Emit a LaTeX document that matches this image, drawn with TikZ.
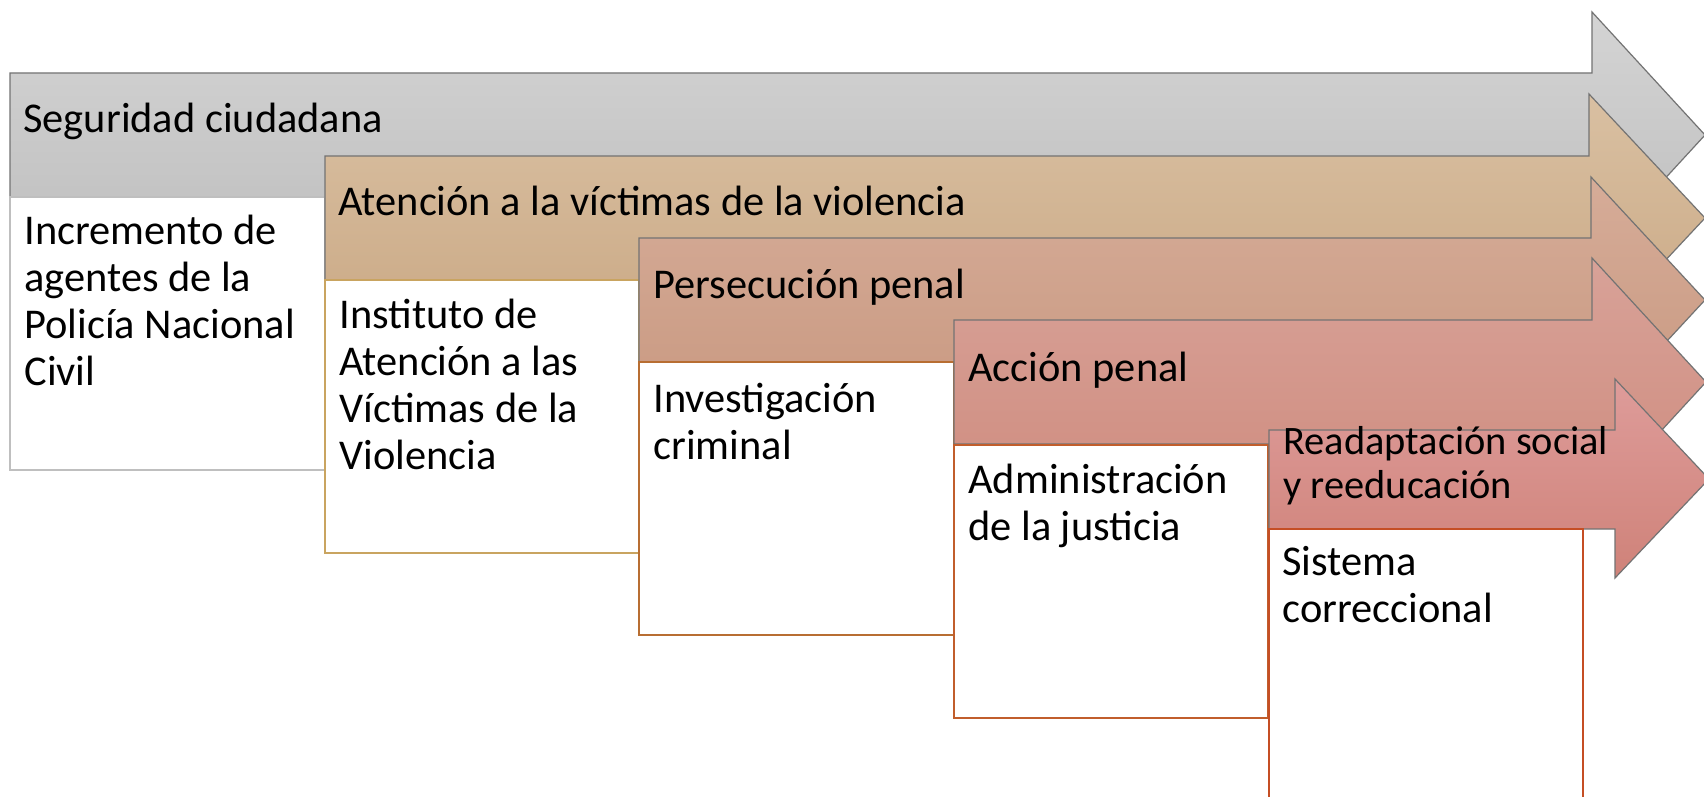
\documentclass[tikz,border=0pt]{standalone}
\usepackage{fontspec}
\setmainfont{Carlito}
\usepackage{tikz}

\definecolor{grisA}{RGB}{212,212,212}
\definecolor{grisB}{RGB}{190,190,190}
\definecolor{ocreA}{RGB}{217,192,162}
\definecolor{ocreB}{RGB}{202,168,132}
\definecolor{rosaA}{RGB}{214,172,152}
\definecolor{rosaB}{RGB}{200,152,128}
\definecolor{rojoA}{RGB}{216,162,152}
\definecolor{rojoB}{RGB}{207,140,127}
\definecolor{vinoA}{RGB}{222,156,154}
\definecolor{vinoB}{RGB}{207,130,121}
\definecolor{bordeA}{RGB}{191,191,191}
\definecolor{bordeB}{RGB}{201,164,96}
\definecolor{bordeC}{RGB}{184,110,50}
\definecolor{bordeD}{RGB}{193,94,44}
\definecolor{bordeE}{RGB}{197,78,36}

\tikzset{
    band/.style={draw=black!55, line width=0.6pt},
    card/.style={fill=white, line width=0.6pt},
    title/.style={anchor=base west, inner sep=0pt, font=\fontsize{21.2}{23.35}\selectfont},
    % multi-line nodes: base is the last line
    body/.style={anchor=base west, inner sep=0pt, align=left, font=\fontsize{21.2}{23.35}\selectfont},
}

\begin{document}
\begin{tikzpicture}[x=0.5pt, y=-0.5pt]
    \clip (0,0) rectangle (1704,797);
    \fill[white] (0,0) rectangle (1704,797);

    \draw[band, top color=grisA, bottom color=grisB] (10,73) -- (1592,73) -- (1592,12) -- (1705,135)
        -- (1592,258) -- (1592,197) -- (10,197) -- cycle;
    \draw[card, draw=bordeA] (10,197) rectangle (325,470);
    \node[title] (seguridad) at (23,133) {Seguridad ciudadana};
    \node[body] (policia) at (24,385) {Incremento de\\agentes de la\\Policía Nacional\\Civil};

    \draw[band, top color=ocreA, bottom color=ocreB] (325,156) -- (1589,156) -- (1589,94) -- (1705,218)
        -- (1589,342) -- (1589,280) -- (325,280) -- cycle;
    \draw[card, draw=bordeB] (325,280) rectangle (639,553);
    \node[title] (atencion) at (338,215) {Atención a la víctimas de la violencia};
    \node[body] (instituto) at (339,469) {Instituto de\\Atención a las\\Víctimas de la\\Violencia};

    \draw[band, top color=rosaA, bottom color=rosaB] (639,238) -- (1591,238) -- (1591,177) -- (1705,300)
        -- (1591,423) -- (1591,362) -- (639,362) -- cycle;
    \draw[card, draw=bordeC] (639,362) rectangle (954,635);
    \node[title] (persecucion) at (653,298) {Persecución penal};
    \node[body] (investigacion) at (653,459) {Investigación\\criminal};

    \draw[band, top color=rojoA, bottom color=rojoB] (954,320) -- (1592,320) -- (1592,258) -- (1706,382)
        -- (1592,506) -- (1592,444) -- (954,444) -- cycle;
    \draw[card, draw=bordeD] (954,445) rectangle (1268,718);
    \node[title] (accion) at (968,381) {Acción penal};
    \node[body] (justicia) at (968,540) {Administración\\de la justicia};

    \draw[band, top color=vinoA, bottom color=vinoB] (1269,430) -- (1615,430) -- (1615,379) -- (1709,479)
        -- (1615,578) -- (1615,529) -- (1269,529) -- cycle;
    \draw[card, draw=bordeE] (1269,529) rectangle (1583,820);
    \node[body, font=\fontsize{20.2}{22}\selectfont] (readaptacion) at (1283,498) {Readaptación social\\y reeducación};
    \node[body] (sistema) at (1282,622) {Sistema\\correccional};
\end{tikzpicture}
\end{document}
